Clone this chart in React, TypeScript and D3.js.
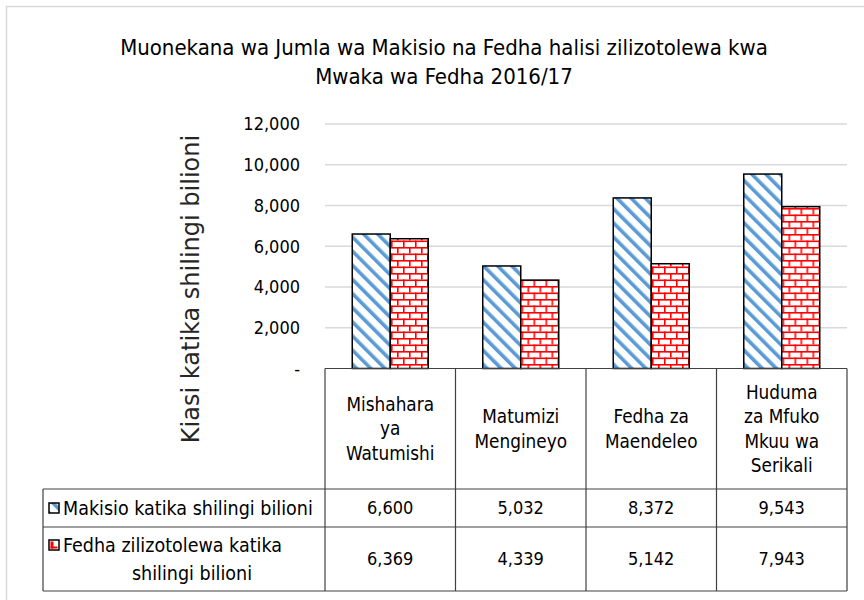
import * as d3 from "d3";

const categories = [
  ["Mishahara", "ya", "Watumishi"],
  ["Matumizi", "Mengineyo"],
  ["Fedha za", "Maendeleo"],
  ["Huduma", "za Mfuko", "Mkuu wa", "Serikali"],
];
const seriesNames = ["Makisio", "Fedha"];
const seriesLabels = [
  ["Makisio katika shilingi bilioni"],
  ["Fedha zilizotolewa katika", "shilingi bilioni"],
];
const makisio = [6600, 5032, 8372, 9543];
const fedha = [6369, 4339, 5142, 7943];
const yTicks = [0, 2000, 4000, 6000, 8000, 10000, 12000];
const titleLines = [
  "Muonekana wa Jumla wa Makisio na Fedha halisi zilizotolewa kwa",
  "Mwaka wa Fedha 2016/17",
];
const yTitle = "Kiasi katika shilingi bilioni";

const font = "'DejaVu Sans Condensed', 'DejaVu Sans', sans-serif";

export default function App() {
  const width = 864;
  const height = 600;
  const plotLeft = 325;
  const plotRight = 847;
  const plotTop = 124;
  const plotBottom = 368.5;
  const tableLeft = 43;
  const rowTop = 489;
  const rowMid = 527;
  const tableBottom = 591;
  const lineColor = "#404040";

  const keys = categories.map((c) => c.join(" "));
  const x0 = d3.scaleBand().domain(keys).range([plotLeft, plotRight]);
  const x1 = d3
    .scaleBand()
    .domain(seriesNames)
    .range([0, x0.bandwidth()])
    .paddingOuter(0.717);
  const y = d3.scaleLinear().domain([0, 12000]).range([plotBottom, plotTop]);
  const fmt = d3.format(",");
  const values = [makisio, fedha];
  const fills = ["url(#stripes)", "url(#bricks)"];

  return (
    <svg
      width={width}
      height={height}
      style={{ position: "absolute", left: 0, top: 0, background: "#fff" }}
      fontFamily={font}
    >
      <defs>
        <pattern id="stripes" patternUnits="userSpaceOnUse" width={10} height={10} patternTransform="rotate(-45)">
          <rect width={10} height={10} fill="#fff" />
          <rect x={0} y={0} width={3.6} height={10} fill="#5b9bd5" />
        </pattern>
        <pattern id="bricks" patternUnits="userSpaceOnUse" width={12} height={13} x={0} y={0}>
          <rect width={12} height={13} fill="#fff" />
          <rect x={0} y={0} width={12} height={1.6} fill="#ff0000" />
          <rect x={0} y={6.5} width={12} height={1.6} fill="#ff0000" />
          <rect x={0} y={0} width={1.6} height={6.5} fill="#ff0000" />
          <rect x={6} y={6.5} width={1.6} height={6.5} fill="#ff0000" />
        </pattern>
      </defs>

      <rect x={6.5} y={6.5} width={width} height={height} fill="#fff" stroke="#d9d9d9" strokeWidth={1.5} />

      {titleLines.map((t, i) => (
        <text key={i} x={444} y={55 + i * 29} textAnchor="middle" fontSize={22} fill="#000">
          {t}
        </text>
      ))}

      <text
        transform={`translate(199, ${(plotTop + 454) / 2}) rotate(-90)`}
        textAnchor="middle"
        fontSize={24}
        fontFamily="'DejaVu Sans', sans-serif"
        fill="#262626"
      >
        {yTitle}
      </text>

      {yTicks.map((t) => (
        <g key={t}>
          {t > 0 && (
            <line x1={plotLeft} x2={plotRight} y1={y(t)} y2={y(t)} stroke="#d9d9d9" strokeWidth={1.3} />
          )}
          <text x={300} y={y(t)} dy="0.35em" textAnchor="end" fontSize={18} fill="#000">
            {t === 0 ? "-" : fmt(t)}
          </text>
        </g>
      ))}

      {keys.map((k, ci) => (
        <g key={k} transform={`translate(${x0(k)},0)`}>
          {seriesNames.map((s, si) => (
            <rect
              key={s}
              x={x1(s)}
              y={y(values[si][ci])}
              width={x1.bandwidth()}
              height={plotBottom - y(values[si][ci])}
              fill={fills[si]}
              stroke="#000"
              strokeWidth={1.5}
            />
          ))}
        </g>
      ))}

      {/* data table */}
      <g stroke={lineColor} strokeWidth={1.2} fill="none">
        <line x1={plotLeft} x2={plotRight} y1={plotBottom} y2={plotBottom} />
        <line x1={tableLeft} x2={plotRight} y1={rowTop} y2={rowTop} />
        <line x1={tableLeft} x2={plotRight} y1={rowMid} y2={rowMid} />
        <line x1={tableLeft} x2={plotRight} y1={tableBottom} y2={tableBottom} />
        <line x1={tableLeft} x2={tableLeft} y1={rowTop} y2={tableBottom} />
        {[...keys.map((k) => x0(k) as number), plotRight].map((xv, i) => (
          <line key={i} x1={xv} x2={xv} y1={plotBottom} y2={tableBottom} />
        ))}
      </g>

      {categories.map((lines, ci) => {
        const cx = (x0(keys[ci]) as number) + x0.bandwidth() / 2;
        const lh = 24.5;
        const cy = (plotBottom + rowTop) / 2 - ((lines.length - 1) * lh) / 2;
        return (
          <text key={ci} textAnchor="middle" fontSize={18.8} fill="#000">
            {lines.map((l, li) => (
              <tspan key={li} x={cx} y={cy + li * lh} dy="0.35em">
                {l}
              </tspan>
            ))}
          </text>
        );
      })}

      {seriesNames.map((s, si) => {
        const top = si === 0 ? rowTop : rowMid;
        const bottom = si === 0 ? rowMid : tableBottom;
        const lines = seriesLabels[si];
        const lh = 28;
        const cy = (top + bottom) / 2 - ((lines.length - 1) * lh) / 2;
        return (
          <g key={s}>
            <rect x={49} y={cy - 5} width={10} height={10} fill={si === 0 ? "url(#stripes)" : "#fff"} stroke="#000" strokeWidth={1.5} />
            {si === 1 && <rect x={50.5} y={cy - 3.5} width={3} height={7} fill="#ff0000" />}
            {si === 1 && <rect x={50.5} y={cy + 1.5} width={7} height={2} fill="#ff0000" />}
            {lines.map((l, li) => (
              <text
                key={li}
                x={li === 0 ? 63 : 192}
                y={cy + li * lh}
                dy="0.35em"
                textAnchor={li === 0 ? "start" : "middle"}
                fontSize={19.5}
                fill="#000"
              >
                {l}
              </text>
            ))}
            {keys.map((k, ci) => (
              <text
                key={k}
                x={(x0(k) as number) + x0.bandwidth() / 2}
                y={(top + bottom) / 2}
                dy="0.35em"
                textAnchor="middle"
                fontSize={18}
                fill="#000"
              >
                {fmt(values[si][ci])}
              </text>
            ))}
          </g>
        );
      })}
    </svg>
  );
}
